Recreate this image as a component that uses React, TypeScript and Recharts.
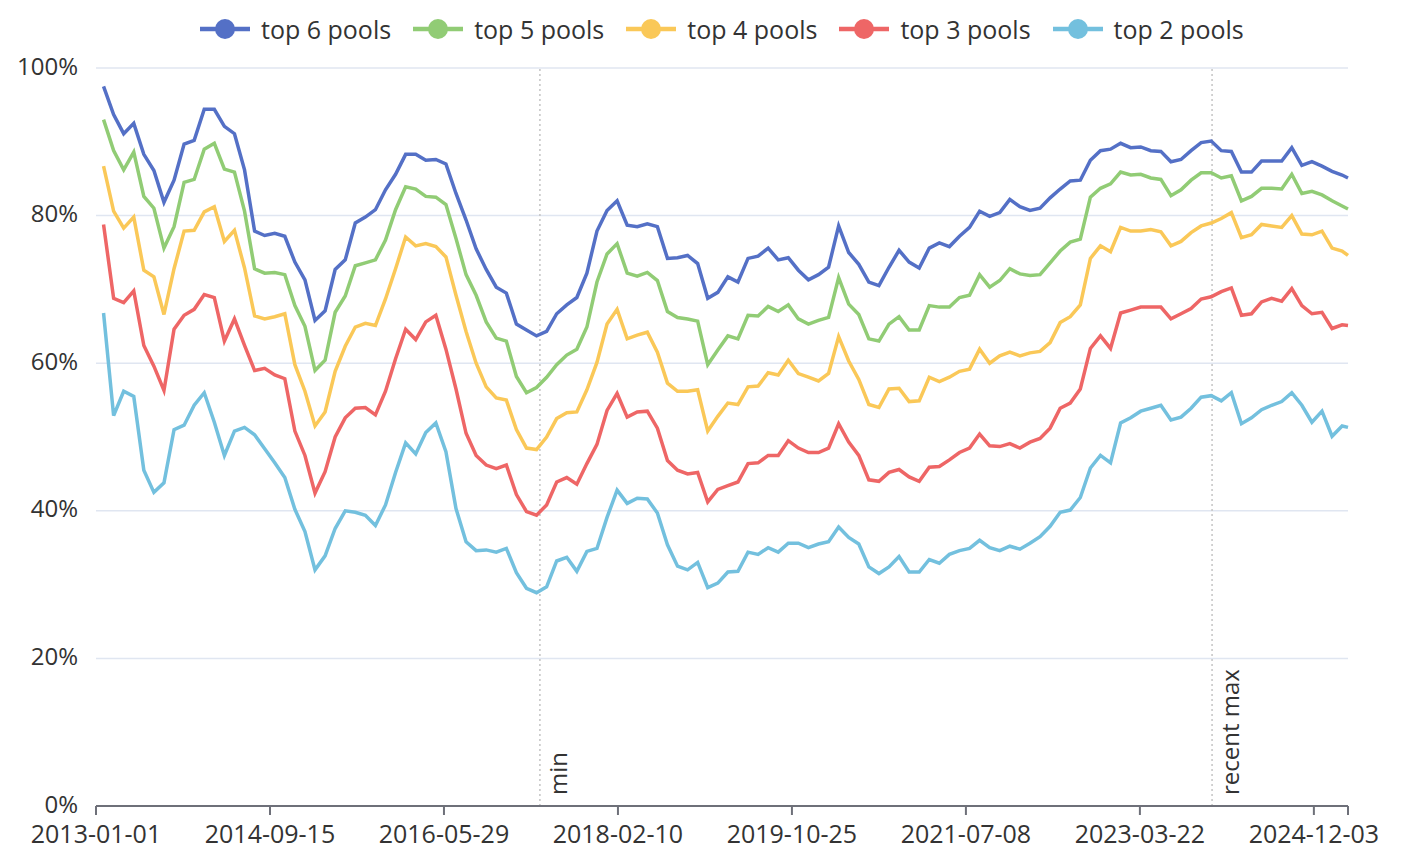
import React from "react";
import { LineChart, Line, XAxis, YAxis, CartesianGrid, ReferenceLine } from "recharts";

// day offsets are counted from 2013-01-01; one sample every 36 days
const START = Date.UTC(2013, 0, 1);
const FIRST_DAY = 27;
const STEP = 36;
const END_DAY = 4476;

const xTicks = [0, 622, 1244, 1866, 2488, 3110, 3732, 4354, END_DAY];
const yTicks = [0, 20, 40, 60, 80, 100];

const markers = [
  { date: "2017-05-07", label: "min" },
  { date: "2023-12-05", label: "recent max" },
];

const top6 = [
  97.5, 93.7, 91.1, 92.5, 88.3, 86.1, 81.8, 84.8, 89.7, 90.2, 94.4, 94.4, 92.1, 91.1, 86.2, 77.9, 77.3, 77.6, 77.2, 73.7, 71.3,
  65.8, 67.1, 72.7, 74.0, 79.0, 79.8, 80.8, 83.5, 85.6, 88.3, 88.3, 87.5, 87.6, 87.0, 83.0, 79.4, 75.5, 72.7, 70.3, 69.5,
  65.3, 64.5, 63.7, 64.3, 66.7, 67.9, 68.9, 72.2, 77.9, 80.7, 82.0, 78.7, 78.5, 78.9, 78.5, 74.2, 74.3, 74.6, 73.5, 68.8, 69.6,
  71.7, 71.0, 74.2, 74.5, 75.6, 74.0, 74.3, 72.6, 71.3, 72.0, 73.0, 78.6, 75.0, 73.4, 71.0, 70.5, 73.0, 75.3, 73.7, 72.9, 75.6,
  76.3, 75.8, 77.2, 78.4, 80.6, 79.9, 80.4, 82.2, 81.2, 80.7, 81.0, 82.4, 83.6, 84.7, 84.8, 87.5, 88.8, 89.0, 89.8, 89.2,
  89.3, 88.8, 88.7, 87.3, 87.6, 88.8, 89.9, 90.1, 88.8, 88.7, 85.9, 85.9, 87.4, 87.4, 87.4, 89.2, 86.8, 87.3, 86.7, 86.0, 85.5, 85.1,
];

const top5 = [
  93.0, 88.8, 86.2, 88.6, 82.6, 81.0, 75.6, 78.5, 84.5, 84.9, 89.0, 89.8, 86.3, 85.9, 80.6, 72.8, 72.2, 72.3, 72.0, 67.8, 65.0,
  59.0, 60.4, 66.9, 69.1, 73.2, 73.6, 74.0, 76.7, 80.8, 83.9, 83.6, 82.6, 82.5, 81.5, 76.9, 72.0, 69.2, 65.6, 63.4, 63.0,
  58.2, 56.0, 56.7, 58.1, 59.8, 61.1, 61.9, 64.9, 71.0, 74.8, 76.2, 72.2, 71.8, 72.3, 71.2, 67.0, 66.2, 66.0, 65.7, 59.8, 61.8,
  63.7, 63.3, 66.5, 66.4, 67.7, 67.0, 67.9, 66.0, 65.3, 65.8, 66.2, 71.6, 68.0, 66.6, 63.3, 63.0, 65.3, 66.3, 64.5, 64.5, 67.8,
  67.6, 67.6, 68.9, 69.2, 72.0, 70.3, 71.2, 72.8, 72.1, 71.9, 72.0, 73.6, 75.2, 76.4, 76.8, 82.5, 83.7, 84.3, 85.9, 85.5,
  85.6, 85.1, 84.9, 82.7, 83.5, 84.8, 85.8, 85.8, 85.1, 85.4, 82.0, 82.6, 83.7, 83.7, 83.6, 85.6, 83.0, 83.3, 82.8, 82.0, 81.3, 80.9,
];

const top4 = [
  86.7, 80.6, 78.3, 79.8, 72.6, 71.7, 66.6, 72.8, 77.9, 78.0, 80.5, 81.2, 76.5, 78.0, 72.9, 66.4, 66.0, 66.3, 66.7, 59.8, 56.2,
  51.5, 53.4, 58.9, 62.3, 64.9, 65.4, 65.1, 68.7, 72.8, 77.1, 75.9, 76.2, 75.8, 74.4, 69.2, 64.3, 60.0, 56.8, 55.3, 55.0,
  51.0, 48.5, 48.3, 50.0, 52.5, 53.3, 53.4, 56.4, 60.1, 65.3, 67.3, 63.3, 63.8, 64.2, 61.5, 57.3, 56.2, 56.2, 56.4, 50.8, 52.8,
  54.6, 54.4, 56.8, 56.9, 58.7, 58.4, 60.4, 58.6, 58.1, 57.6, 58.6, 63.6, 60.3, 57.8, 54.4, 54.0, 56.5, 56.6, 54.8, 54.9, 58.1,
  57.5, 58.1, 58.9, 59.2, 61.9, 60.0, 61.0, 61.5, 61.0, 61.4, 61.6, 62.8, 65.5, 66.3, 67.9, 74.2, 75.9, 75.1, 78.4, 77.9,
  77.9, 78.1, 77.8, 75.9, 76.5, 77.7, 78.6, 79.0, 79.6, 80.4, 77.0, 77.4, 78.8, 78.6, 78.4, 80.0, 77.5, 77.4, 77.9, 75.6, 75.2, 74.6,
];

const top3 = [
  78.8, 68.8, 68.2, 69.8, 62.4, 59.6, 56.3, 64.6, 66.5, 67.3, 69.3, 68.9, 63.0, 66.0, 62.4, 59.0, 59.3, 58.4, 57.9, 50.8, 47.5,
  42.4, 45.3, 50.0, 52.6, 53.9, 54.0, 53.0, 56.2, 60.6, 64.6, 63.2, 65.6, 66.5, 61.9, 56.5, 50.5, 47.5, 46.2, 45.7, 46.2,
  42.2, 39.9, 39.4, 40.8, 43.9, 44.5, 43.6, 46.4, 49.0, 53.6, 55.9, 52.7, 53.4, 53.5, 51.2, 46.8, 45.5, 45.0, 45.2, 41.2, 42.9,
  43.4, 43.9, 46.4, 46.5, 47.5, 47.5, 49.5, 48.5, 47.9, 47.9, 48.5, 51.8, 49.3, 47.5, 44.2, 44.0, 45.2, 45.6, 44.6, 44.0, 45.9,
  46.0, 46.9, 47.9, 48.5, 50.4, 48.8, 48.7, 49.1, 48.5, 49.3, 49.8, 51.2, 53.9, 54.6, 56.5, 62.0, 63.7, 62.0, 66.8, 67.2,
  67.6, 67.6, 67.6, 66.0, 66.7, 67.4, 68.7, 69.0, 69.7, 70.2, 66.5, 66.7, 68.3, 68.8, 68.4, 70.1, 67.8, 66.7, 66.9, 64.7, 65.2, 65.1,
];

const top2 = [
  66.8, 52.9, 56.2, 55.5, 45.5, 42.5, 43.8, 51.0, 51.6, 54.3, 56.0, 52.0, 47.5, 50.8, 51.3, 50.3, 48.4, 46.5, 44.5, 40.2, 37.2,
  32.0, 33.9, 37.6, 40.0, 39.8, 39.4, 38.0, 40.8, 45.2, 49.2, 47.7, 50.6, 51.9, 48.0, 40.3, 35.8, 34.6, 34.7, 34.4, 34.9,
  31.6, 29.5, 28.9, 29.7, 33.2, 33.7, 31.8, 34.5, 34.9, 39.1, 42.8, 41.0, 41.7, 41.6, 39.7, 35.4, 32.5, 32.0, 33.0, 29.6, 30.2,
  31.7, 31.8, 34.4, 34.1, 35.0, 34.4, 35.6, 35.6, 35.0, 35.5, 35.8, 37.8, 36.4, 35.5, 32.4, 31.5, 32.4, 33.8, 31.7, 31.7, 33.4,
  32.9, 34.1, 34.6, 34.9, 36.0, 35.0, 34.6, 35.2, 34.8, 35.6, 36.5, 37.9, 39.8, 40.1, 41.8, 45.8, 47.5, 46.5, 51.9, 52.6,
  53.5, 53.9, 54.3, 52.3, 52.7, 53.9, 55.4, 55.6, 54.9, 56.0, 51.8, 52.6, 53.7, 54.3, 54.8, 56.0, 54.3, 52.0, 53.5, 50.1, 51.5, 51.3,
];

const series = [
  { key: "top6", name: "top 6 pools", color: "#5470c6", values: top6 },
  { key: "top5", name: "top 5 pools", color: "#91cc75", values: top5 },
  { key: "top4", name: "top 4 pools", color: "#fac858", values: top4 },
  { key: "top3", name: "top 3 pools", color: "#ee6666", values: top3 },
  { key: "top2", name: "top 2 pools", color: "#73c0de", values: top2 },
];

const FONT = "'Open Sans', sans-serif";
const TEXT = "#333";

const dayToDate = (d: number) => new Date(START + d * 86400000).toISOString().slice(0, 10);
const dateToDay = (s: string) => Math.round((Date.parse(s) - START) / 86400000);

const rows = top6.map((_, i) => {
  const row: Record<string, number> = { day: Math.min(FIRST_DAY + i * STEP, END_DAY) };
  series.forEach((s) => (row[s.key] = s.values[i]));
  return row;
});

const MarkerLabel = ({ viewBox, text }: any) => {
  if (!viewBox) return null;
  const x = viewBox.x + 27;
  const y = viewBox.y + viewBox.height - 11;
  return (
    <text
      x={x}
      y={y}
      transform={`rotate(-90 ${x} ${y})`}
      fill={TEXT}
      fontSize={24}
      fontFamily={FONT}
    >
      {text}
    </text>
  );
};

const LegendBar = () => (
  <div
    style={{
      position: "absolute",
      top: 14,
      left: 200,
      display: "flex",
      alignItems: "center",
      fontFamily: FONT,
      fontSize: 25,
      color: TEXT,
      lineHeight: "30px",
    }}
  >
    {series.map((s) => (
      <div key={s.key} style={{ display: "flex", alignItems: "center", marginRight: 22 }}>
        <svg width={50} height={30}>
          <line x1={0} x2={50} y1={15} y2={15} stroke={s.color} strokeWidth={4.5} />
          <circle cx={25} cy={15} r={10} fill={s.color} />
        </svg>
        <span style={{ marginLeft: 11 }}>{s.name}</span>
      </div>
    ))}
  </div>
);

export default function App() {
  return (
    <div style={{ position: "relative", width: 1410, height: 863, background: "#fff" }}>
      <style>{"body{margin:0}"}</style>
      <LegendBar />
      <LineChart width={1410} height={863} data={rows} margin={{ top: 68, right: 62, bottom: 27, left: 0 }}>
        <CartesianGrid vertical={false} stroke="#E0E6F1" strokeWidth={1.5} />
        <XAxis
          dataKey="day"
          type="number"
          domain={[0, END_DAY]}
          ticks={xTicks}
          interval={0}
          tickFormatter={(d: number) => (d === END_DAY ? "" : dayToDate(d))}
          axisLine={{ stroke: "#6E7079", strokeWidth: 2 }}
          tickLine={{ stroke: "#6E7079", strokeWidth: 2 }}
          tickSize={9}
          tickMargin={10}
          height={30}
          tick={{ fill: TEXT, fontSize: 25, fontFamily: FONT }}
        />
        <YAxis
          type="number"
          domain={[0, 100]}
          ticks={yTicks}
          tickFormatter={(v: number) => `${v}%`}
          axisLine={false}
          tickLine={false}
          tickSize={0}
          tickMargin={18}
          width={96}
          tick={{ fill: TEXT, fontSize: 24, fontFamily: FONT, dy: -2 }}
        />
        {markers.map((m) => (
          <ReferenceLine
            key={m.label}
            x={dateToDay(m.date)}
            stroke="#c4c4c4"
            strokeWidth={1.5}
            strokeDasharray="2 3"
            label={<MarkerLabel text={m.label} />}
          />
        ))}
        {series.map((s) => (
          <Line
            key={s.key}
            type="linear"
            dataKey={s.key}
            name={s.name}
            stroke={s.color}
            strokeWidth={3.5}
            dot={false}
            isAnimationActive={false}
          />
        ))}
      </LineChart>
    </div>
  );
}
